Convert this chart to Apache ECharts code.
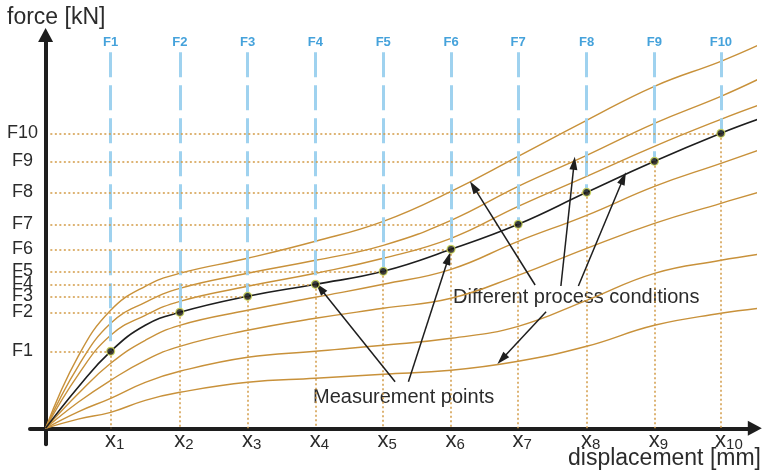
<!DOCTYPE html>
<html>
<head>
<meta charset="utf-8">
<script src="https://cdn.jsdelivr.net/npm/echarts@6/dist/echarts.min.js"></script>
<style>html,body{margin:0;padding:0;background:#fff}#c{width:764px;height:475px}</style>
</head>
<body>
<div id="c"></div>
<script>
// ---- data ----
const xTickNames = ['1','2','3','4','5','6','7','8','9','10'];
const xPos = [0.96, 1.98, 2.98, 3.98, 4.98, 5.98, 6.97, 7.98, 8.98, 9.96];
const forceNames = ['F1','F2','F3','F4','F5','F6','F7','F8','F9','F10'];
const forceLevels = [7.7, 11.6, 13.2, 14.4, 15.7, 17.9, 20.4, 23.6, 26.7, 29.5];
const blueTop = 37.6;
const curveX = [0, 0.48, 0.96, 1.47, 1.98, 2.98, 3.98, 4.98, 5.98, 6.97, 7.98, 8.98, 9.96, 10.51];
const cond1 = [0, 7.2, 11.8, 14.2, 15.5, 17.0, 18.7, 20.7, 23.7, 27.2, 30.8, 34.2, 36.7, 38.3];
const cond2 = [0, 6.2, 10.5, 12.6, 14.0, 15.5, 16.8, 18.3, 20.8, 24.2, 27.3, 30.5, 33.2, 34.9];
const cond3 = [0, 5.35, 9.3, 11.3, 12.7, 14.2, 15.5, 17.0, 19.0, 22.2, 25.2, 28.2, 30.9, 32.3];
const measured = [0, 4.1, 7.7, 10.3, 11.6, 13.2, 14.4, 15.7, 17.9, 20.4, 23.6, 26.7, 29.5, 30.9];
const cond4 = [0, 3.45, 6.5, 8.8, 10.3, 11.8, 13.1, 14.4, 15.9, 18.7, 21.3, 24.2, 26.5, 27.8];
const cond5 = [0, 2.6, 4.8, 6.8, 8.2, 9.8, 11.0, 12.0, 13.0, 15.3, 18.0, 20.5, 22.5, 23.6];
const cond6 = [0, 1.65, 3.0, 4.6, 5.7, 7.1, 7.7, 8.3, 9.0, 10.2, 12.8, 15.5, 16.8, 17.4];
const cond7 = [0, 0.92, 1.6, 2.8, 3.6, 4.6, 5.0, 5.4, 5.8, 6.7, 8.2, 10.3, 11.5, 12.0];
// annotation arrows: [fromX, fromY, toX, toY] in data units
const measArrows = [[5.155, 4.66, 4.049, 14.0], [5.351, 4.66, 5.941, 17.0]];
const condArrows = [[7.22, 14.33, 6.31, 24.16], [7.60, 14.23, 7.795, 26.5], [7.858, 14.23, 8.522, 25.0], [7.382, 11.66, 6.729, 6.9]];

const brown = '#c8913a';
const dotted = '#d29b45';
const ink = '#1e1e1e';
const font = 'Liberation Sans, Arial, sans-serif';

const chart = echarts.init(document.getElementById('c'), null, {renderer: 'canvas'});
const zip = ys => curveX.map((x, i) => [x, ys[i]]);
const brownCurves = [cond1, cond2, cond3, cond4, cond5, cond6, cond7].map(ys => ({
  type: 'line', data: zip(ys), smooth: 0.45, symbol: 'none', clip: false, z: 3,
  lineStyle: {color: brown, width: 1.4}, silent: true
}));

const option = {
  animation: false,
  textStyle: {fontFamily: font},
  grid: {left: 30, top: 35, width: 724.8, height: 409.3, containLabel: false, outerBoundsMode: 'none'},
  xAxis: {
    type: 'value', min: -0.23, max: 10.46,
    splitLine: {show: false}, axisTick: {show: false},
    axisLine: {onZero: true, symbol: ['none', 'triangle'], symbolSize: [15, 14],
      lineStyle: {color: ink, width: 4}},
    axisLabel: {
      customValues: xPos, margin: -14, color: '#2b2b2b',
      formatter: v => { const n = xTickNames[xPos.indexOf(v)]; return '{p' + n.length + '| }{x|x}{s|' + n + '}'; },
      rich: {
        p1: {width: 8, fontSize: 10},
        p2: {width: 16, fontSize: 10},
        x: {fontSize: 22, lineHeight: 22, color: '#2b2b2b', fontFamily: font},
        s: {fontSize: 15, lineHeight: 15, padding: [7, 0, 0, 0], color: '#2b2b2b', fontFamily: font}
      }
    }
  },
  yAxis: {
    type: 'value', min: -1.6, max: 39.33,
    splitLine: {show: false}, axisTick: {show: false},
    axisLine: {onZero: true, symbol: ['none', 'triangle'], symbolSize: [15, 14],
      lineStyle: {color: ink, width: 4}},
    axisLabel: {
      customValues: forceLevels, margin: 7.5, align: 'center', fontSize: 18, color: '#2b2b2b',
      formatter: v => forceNames[forceLevels.indexOf(v)]
    }
  },
  graphic: [
    {type: 'text', left: 7, top: 6, style: {text: 'force [kN]', font: '23px ' + font, fill: '#2b2b2b'}},
    {type: 'text', right: 3, top: 447, style: {text: 'displacement [mm]', font: '23px ' + font, fill: '#2b2b2b'}},
    {type: 'text', left: 313, top: 387, style: {text: 'Measurement points', font: '20px ' + font, fill: '#2b2b2b'}},
    {type: 'text', left: 453, top: 287, style: {text: 'Different process conditions', font: '20px ' + font, fill: '#2b2b2b'}}
  ],
  series: [
    {
      type: 'line', data: [], z: 1, silent: true,
      markLine: {
        silent: true, symbol: 'none', animation: false,
        data: xPos.flatMap((x, i) => [
          [{coord: [x, blueTop], name: forceNames[i],
            lineStyle: {color: '#9fd2ef', width: 3, type: [25, 8]},
            label: {show: true, position: 'start', formatter: '{b}', color: '#45a2db', fontWeight: 'bold', fontSize: 13, distance: 3}},
           {coord: [x, forceLevels[i]]}],
          [{coord: [0.07, forceLevels[i]], lineStyle: {color: dotted, width: 1.5, type: [2, 2.5]}, label: {show: false}},
           {coord: [x, forceLevels[i]]}],
          [{coord: [x, forceLevels[i]], lineStyle: {color: dotted, width: 1.5, type: [2, 2.5]}, label: {show: false}},
           {coord: [x, 0]}]
        ])
      }
    },
    ...brownCurves,
    {type: 'line', data: zip(measured), smooth: 0.45, symbol: 'none', clip: false, z: 4,
      lineStyle: {color: ink, width: 1.6}, silent: true},
    {type: 'scatter', data: xPos.map((x, i) => [x, forceLevels[i]]), symbol: 'circle', symbolSize: 8, z: 5,
      itemStyle: {color: '#111', borderColor: '#d5e05a', borderWidth: 1.2}, silent: true},
    {
      type: 'line', data: [], z: 6, silent: true,
      markLine: {
        silent: true, symbol: ['none', 'triangle'], symbolSize: [8, 13], animation: false,
        lineStyle: {color: ink, width: 1.5, type: 'solid'}, label: {show: false},
        data: measArrows.concat(condArrows).map(a => [{coord: [a[0], a[1]]}, {coord: [a[2], a[3]]}])
      }
    }
  ]
};
chart.setOption(option);
</script>
</body>
</html>
